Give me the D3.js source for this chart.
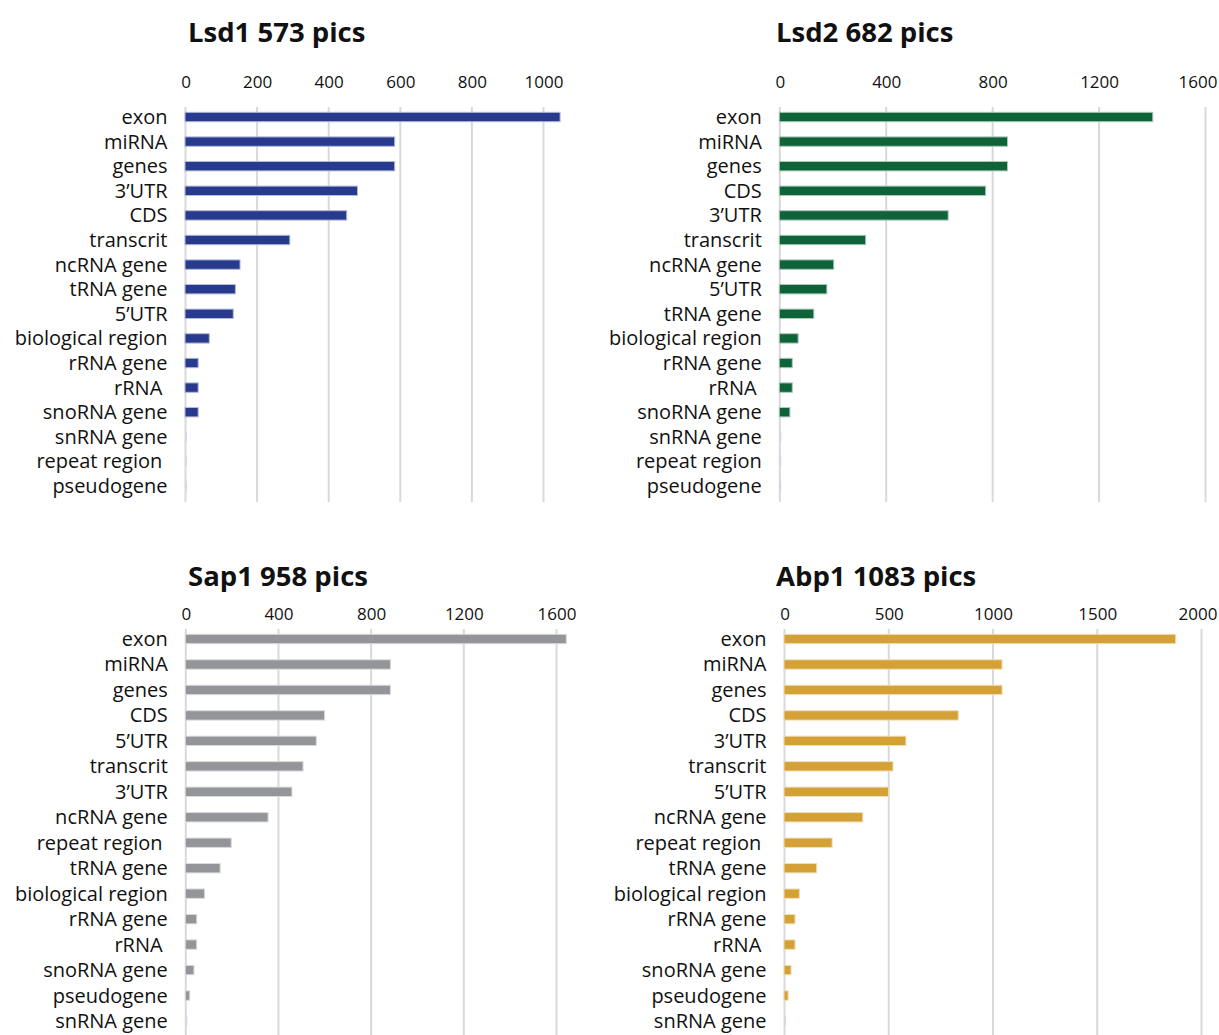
<!DOCTYPE html>
<html>
<head>
<meta charset="utf-8">
<script src="https://cdn.jsdelivr.net/npm/d3@7/dist/d3.min.js"></script>
<style>
  html, body { margin: 0; padding: 0; background: #fff; }
  svg { display: block; }
  text { font-family: "Open Sans", "Noto Sans", sans-serif; fill: #111; white-space: pre; }
</style>
</head>
<body>
<svg id="chart" width="1219" height="1035"></svg>
<script>
// ---------- data ----------
const lsd1Title = "Lsd1 573 pics";
const lsd1Categories = ["exon","miRNA","genes","3’UTR","CDS","transcrit","ncRNA gene","tRNA gene","5’UTR","biological region","rRNA gene","rRNA ","snoRNA gene","snRNA gene","repeat region ","pseudogene"];
const lsd1Values = [1045,583,583,479,449,290,151,138,132,65,34,34,34,0,0,0];
const lsd1Ticks = [0,200,400,600,800,1000];

const lsd2Title = "Lsd2 682 pics";
const lsd2Categories = ["exon","miRNA","genes","CDS","3’UTR","transcrit","ncRNA gene","5’UTR","tRNA gene","biological region","rRNA gene","rRNA ","snoRNA gene","snRNA gene","repeat region","pseudogene"];
const lsd2Values = [1400,854,854,772,631,321,201,175,126,67,45,45,36,0,0,0];
const lsd2Ticks = [0,400,800,1200,1600];

const sap1Title = "Sap1 958 pics";
const sap1Categories = ["exon","miRNA","genes","CDS","5’UTR","transcrit","3’UTR","ncRNA gene","repeat region ","tRNA gene","biological region","rRNA gene","rRNA ","snoRNA gene","pseudogene","snRNA gene"];
const sap1Values = [1640,881,881,597,561,504,456,353,194,146,79,45,45,33,15,0];
const sap1Ticks = [0,400,800,1200,1600];

const abp1Title = "Abp1 1083 pics";
const abp1Categories = ["exon","miRNA","genes","CDS","3’UTR","transcrit","5’UTR","ncRNA gene","repeat region ","tRNA gene","biological region","rRNA gene","rRNA ","snoRNA gene","pseudogene","snRNA gene"];
const abp1Values = [1874,1041,1041,831,580,518,497,373,226,152,69,48,48,29,15,0];
const abp1Ticks = [0,500,1000,1500,2000];

// ---------- layout ----------
const panels = [
  { title: lsd1Title, cats: lsd1Categories, vals: lsd1Values, ticks: lsd1Ticks, color: "#283a8e",
    x0: 185.5, x1: 543.5, titleX: 188, titleY: 42, tickY: 88, gridTop: 107, gridBot: 502, rowTop: 117, rowBot: 486 },
  { title: lsd2Title, cats: lsd2Categories, vals: lsd2Values, ticks: lsd2Ticks, color: "#0f6338",
    x0: 779.8, x1: 1205.5, titleX: 776, titleY: 42, tickY: 88, gridTop: 107, gridBot: 502, rowTop: 117, rowBot: 486 },
  { title: sap1Title, cats: sap1Categories, vals: sap1Values, ticks: sap1Ticks, color: "#939598",
    x0: 185.8, x1: 556.5, titleX: 188, titleY: 586, tickY: 620, gridTop: 629, gridBot: 1035, rowTop: 639, rowBot: 1021 },
  { title: abp1Title, cats: abp1Categories, vals: abp1Values, ticks: abp1Ticks, color: "#d4a137",
    x0: 784.5, x1: 1201.5, titleX: 776, titleY: 586, tickY: 620, gridTop: 629, gridBot: 1035, rowTop: 639, rowBot: 1021 }
];

const svg = d3.select("#chart");
const barH = 9.4;
const W = 1219;

panels.forEach(p => {
  const g = svg.append("g");
  const x = d3.scaleLinear().domain([0, p.ticks[p.ticks.length - 1]]).range([p.x0, p.x1]);
  const y = d3.scalePoint().domain(p.cats).range([p.rowTop, p.rowBot]);

  // gridlines
  g.append("g").selectAll("line").data(p.ticks).join("line")
    .attr("x1", d => x(d)).attr("x2", d => x(d))
    .attr("y1", p.gridTop).attr("y2", p.gridBot)
    .attr("stroke", "#d9d9d9").attr("stroke-width", 2);

  // tick labels (top axis)
  const axis = d3.axisTop(x).tickValues(p.ticks).tickSize(0).tickPadding(0).tickFormat(d3.format("d"));
  const ax = g.append("g").attr("transform", `translate(0,${p.tickY})`).call(axis);
  ax.select(".domain").remove();
  ax.selectAll("text")
    .attr("font-size", 17)
    .attr("font-family", "'Open Sans', 'Noto Sans', sans-serif")
    .attr("fill", "#111")
    .each(function(d) {
      const w = this.getComputedTextLength();
      const cx = x(d);
      if (cx + w / 2 > W - 2) d3.select(this).attr("dx", (W - 2) - (cx + w / 2));
    });

  // title
  g.append("text").attr("x", p.titleX).attr("y", p.titleY)
    .attr("font-size", 27.5).attr("font-weight", "bold").text(p.title);

  // category labels
  g.append("g").selectAll("text").data(p.cats).join("text")
    .attr("x", p.x0 - 18).attr("y", d => y(d)).attr("dy", "0.35em")
    .attr("text-anchor", "end").attr("font-size", 20).text(d => d);

  // bars
  const lightStroke = d3.interpolateRgb(p.color, "#ffffff")(0.65);
  g.append("g").selectAll("rect").data(p.cats.map((c, i) => ({ c, v: p.vals[i] }))).join("rect")
    .attr("x", x(0) - 0.5)
    .attr("y", d => y(d.c) - barH / 2)
    .attr("width", d => d.v === 0 ? 2 : x(d.v) - x(0) + 1)
    .attr("height", barH)
    .attr("fill", d => d.v === 0 ? "#d2d8ea" : p.color)
    .attr("stroke", d => d.v === 0 ? "none" : lightStroke)
    .attr("stroke-width", 1);
});
</script>
</body>
</html>
